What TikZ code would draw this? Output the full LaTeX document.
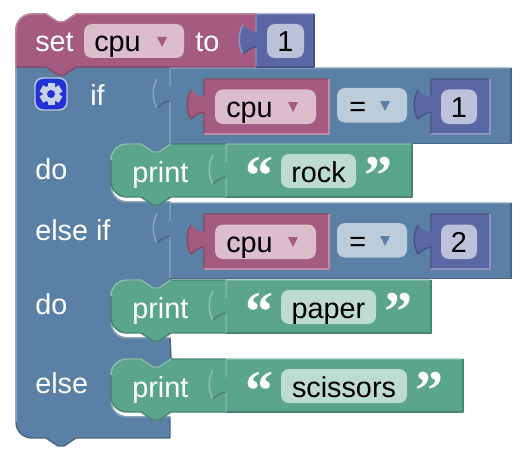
\documentclass[tikz,border=0pt]{standalone}
\usepackage{fontspec}
\setmainfont{Liberation Sans}
\newfontfamily\quotefont{Liberation Serif}
\definecolor{lgc}{HTML}{5B80A5}\definecolor{lgcdk}{HTML}{496684}\definecolor{lgclt}{HTML}{8CA6C0}\definecolor{lgcfd}{HTML}{BDCCDB}
\definecolor{vrb}{HTML}{A55B80}\definecolor{vrbdk}{HTML}{844966}\definecolor{vrblt}{HTML}{C08CA6}\definecolor{vrbfd}{HTML}{DBBDCC}
\definecolor{mth}{HTML}{5B67A5}\definecolor{mthdk}{HTML}{495284}\definecolor{mthlt}{HTML}{8C95C0}\definecolor{mthfd}{HTML}{BDC2DB}
\definecolor{txb}{HTML}{5BA58C}\definecolor{txbdk}{HTML}{498470}\definecolor{txblt}{HTML}{8CC0AF}\definecolor{txbfd}{HTML}{BDDBD1}
\definecolor{btn}{HTML}{2233D5}\definecolor{gear}{HTML}{C8D0EA}
% puzzle tab on a left edge, going down from the neck
\newcommand{\tabtop}{.. controls +(-7,-1) and +(4,3) .. ++(-13,-7)}
\newcommand{\tabarc}{.. controls +(-5,8) and +(-5,-8) .. ++(0,29)}
\newcommand{\tablow}{.. controls +(4,-3) and +(-7,1) .. ++(13,-7)}
\newcommand{\ntop}{-- ++(-12,8) -- ++(-6,0) -- ++(-12,-8)}
% x0 y0 x1 y1 fill topcolour bottomcolour tabcolour
\newcommand{\valblk}[8]{
	\fill[#5] (#1,#2) -- ++(0,18) \tabtop \tabarc \tablow -- (#1,#4) -- (#3,#4) -- (#3,#2) -- cycle;
	\draw[edge,#6] (#3,#2) -- (#1,#2) -- ++(0,18) (#1-13,#2+11) \tabarc (#1,#2+33) -- (#1,#4);
	\draw[edge,#8] (#1-13,#2+40) \tablow;
	\draw[edge,#7] (#1,#4) -- (#3,#4) -- (#3,#2);
}
\newcommand{\fldbox}[5]{\fill[#5,rounded corners=6pt] (#1,#2) rectangle (#3,#4);}
\newcommand{\dropdn}[3]{\fill[#3] (#1-5,#2-5) -- (#1+5,#2-5) -- (#1,#2+5) -- cycle;}
% row with compare block: top, suffix, number
\newcommand{\cmprow}[3]{
	\valblk{170}{#1}{511}{#1+75.5}{lgc}{lgclt}{lgcdk}{lgcdk}
	\valblk{204}{#1+11}{329}{#1+66}{vrb}{vrbdk}{vrblt}{vrbdk}
	\fldbox{215}{#1+21.5}{316}{#1+56}{vrbfd}
	\node[fldtxt,name=cpu#2] at (226,#1+49.5){cpu};
	\dropdn{293}{#1+39}{vrb}
	\fldbox{337}{#1+20}{407}{#1+54.5}{lgcfd}
	\node[fldtxt,name=eq#2] at (349,#1+48){=};
	\dropdn{385}{#1+38}{lgc}
	\valblk{431}{#1+11}{490}{#1+66}{mth}{mthdk}{mthlt}{mthdk}
	\fldbox{441}{#1+21.5}{477}{#1+56}{mthfd}
	\node[numtxt,name=num#2] at (459,#1+49.5){#3};
}
% print statement: top, right end, field right end, word, suffix
\newcommand{\printrow}[5]{
	\draw[edge,fill=txb,draw=txbdk] (226,#1) -- (171,#1) \ntop -- (127,#1) .. controls (118,#1) and (111,#1+7) .. (111,#1+16) -- (111,#1+37) .. controls (111,#1+46) and (118,#1+53) .. (127,#1+53) -- (141,#1+53) -- ++(12,8) -- ++(6,0) -- ++(12,-8) -- (226,#1+53) -- cycle;
	\draw[edge,txblt] (171,#1) \ntop -- (127,#1) .. controls (118,#1) and (111,#1+7) .. (111,#1+16);
	\node[lbl,name=print#5] at (132,#1+38){print};
	\valblk{226}{#1}{#2}{#1+53}{txb}{txblt}{txbdk}{txbdk}
	\fldbox{281}{#1+10}{#3}{#1+44}{txbfd}
	\node[numtxt,name=word#5] at ({(281+#3)/2},#1+38){#4};
	\node[qt,name=open#5] at (259,#1+50.5){\char"201C};
	\node[qt,name=close#5] at (#3+22.5,#1+50.5){\char"201D};
}
\begin{document}
\begin{tikzpicture}
	[x=0.75pt,y=-0.75pt,
	edge/.style={line width=1.1pt,line join=round},
	lbl/.style={anchor=base west,inner sep=0pt,text=white,font=\fontsize{21.6}{26}\selectfont},
	fldtxt/.style={lbl,text=black},
	numtxt/.style={lbl,anchor=base,text=black},
	qt/.style={anchor=base,inner sep=0pt,text=white,font=\quotefont\bfseries\fontsize{42}{42}\selectfont}]
	\useasboundingbox (0,0) rectangle (528,460);
	% if block body
	\draw[edge,fill=lgc,draw=lgcdk] (16,67) -- (170,67)
		-- (171,144) \ntop -- (127,144) .. controls (118,144) and (111,151) .. (111,160) -- (111,186) .. controls (111,195) and (118,202) .. (127,202) -- (170,202)
		-- (171,280) \ntop -- (127,280) .. controls (118,280) and (111,287) .. (111,296) -- (111,322) .. controls (111,331) and (118,338) .. (127,338) -- (170,338)
		-- (171,359) \ntop -- (127,359) .. controls (118,359) and (111,366) .. (111,375) -- (111,401) .. controls (111,410) and (118,417) .. (127,417) -- (170,417)
		-- (170,438) -- (76,438) -- ++(-12,8) -- ++(-6,0) -- ++(-12,-8) -- (32,438) .. controls (23,438) and (16,431) .. (16,422) -- cycle;
	\draw[edge,lgclt] (16,422) -- (16,67);
	\draw[edge,lgclt] (111,186) .. controls (111,195) and (118,202) .. (127,202) -- (170,202);
	\draw[edge,lgclt] (111,322) .. controls (111,331) and (118,338) .. (127,338) -- (170,338);
	\draw[edge,lgclt] (111,401) .. controls (111,410) and (118,417) .. (127,417) -- (170,417);
	% compare rows
	\cmprow{68}{a}{1}
	\cmprow{203}{b}{2}
	% set block
	\draw[edge,fill=vrb,draw=vrbdk] (32,14) -- (46,14) -- ++(12,8) -- ++(6,0) -- ++(12,-8) -- (256,14) -- (256,67) -- (76,67) -- ++(-12,8) -- ++(-6,0) -- ++(-12,-8) -- (16,67) -- (16,30) .. controls (16,21) and (23,14) .. (32,14) -- cycle;
	\valblk{256}{14}{314}{67}{mth}{mthlt}{mthdk}{mthdk}
	\fldbox{267}{24}{304}{58}{mthfd}
	\node[numtxt,name=numset] at (285.5,52){1};
	\draw[edge,vrblt] (16,67) -- (16,30) .. controls (16,21) and (23,14) .. (32,14) -- (46,14) -- ++(12,8) -- ++(6,0) -- ++(12,-8) -- (256,14);
	\fldbox{84}{24}{184}{58}{vrbfd}
	\node[lbl,name=setlbl] at (35,52){set};
	\node[fldtxt,name=cpuset] at (94,52){cpu};
	\dropdn{162}{42}{vrb}
	\node[lbl,name=tolbl] at (195,52){to};
	% mutator button
	\draw[line width=1.1pt,draw=lgcfd,fill=btn,rounded corners=6pt] (35,78) rectangle (67,110);
	\foreach \a in {0,60,...,300}
		\fill[gear,rotate around={\a:(51,94)}] (47.5,83) rectangle (54.5,105);
	\fill[gear] (51,94) circle[radius=8.5];
	\fill[btn] (51,94) circle[radius=4];
	% labels on the left
	\node[lbl,name=iflbl] at (90,105){if};
	\node[lbl,name=dolbla] at (35,179){do};
	\node[lbl,name=elseif] at (35,240){else if};
	\node[lbl,name=dolblb] at (35,314){do};
	\node[lbl,name=elselbl] at (35,393){else};
	% print blocks
	\printrow{144}{412}{356}{rock}{a}
	\printrow{280}{431}{376}{paper}{b}
	\printrow{359}{463}{407}{scissors}{c}
\end{tikzpicture}
\end{document}
